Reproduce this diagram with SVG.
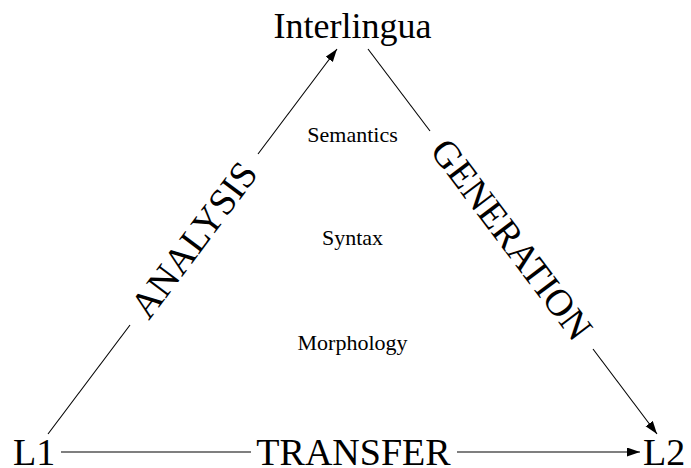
<svg xmlns="http://www.w3.org/2000/svg" width="691" height="468" viewBox="0 0 691 468">
  <style>
    .big { font-family: "Liberation Serif", "Times New Roman", serif; font-size: 38px; fill: #000; }
    .small { font-family: "Liberation Serif", "Times New Roman", serif; font-size: 22px; fill: #000; text-anchor: middle; }
    .edge { stroke: #000; stroke-width: 1.1; fill: none; }
  </style>
  <defs>
    <marker id="arrow" markerUnits="userSpaceOnUse" markerWidth="14" markerHeight="10" refX="13" refY="4.5" orient="auto">
      <path d="M0,0 L13,4.5 L0,9 Z" fill="#000"/>
    </marker>
  </defs>

  <!-- corner nodes -->
  <g id="interlingua">
    <text class="big" x="352.5" y="38" text-anchor="middle" style="font-size:36px">Interlingua</text>
  </g>
  <g id="l1">
    <text class="big" x="13" y="465">L1</text>
  </g>
  <g id="l2">
    <text class="big" x="643" y="465">L2</text>
  </g>

  <!-- levels inside the triangle -->
  <g id="levels">
    <text class="small" x="352.5" y="142">Semantics</text>
    <text class="small" x="352.5" y="245">Syntax</text>
    <text class="small" x="352.5" y="350">Morphology</text>
  </g>

  <!-- connectors: each edge is split around its label -->
  <g id="connectors">
    <line class="edge" x1="48" y1="434" x2="130" y2="325"/>
    <line class="edge" x1="258" y1="154" x2="337" y2="49" marker-end="url(#arrow)"/>

    <line class="edge" x1="368" y1="49" x2="430" y2="131"/>
    <line class="edge" x1="593" y1="349" x2="657" y2="434" marker-end="url(#arrow)"/>

    <line class="edge" x1="61" y1="452" x2="251" y2="452"/>
    <line class="edge" x1="457" y1="452" x2="640" y2="452" marker-end="url(#arrow)"/>
  </g>

  <!-- edge labels -->
  <g id="edge-labels">
    <text class="big" text-anchor="middle" transform="translate(194,240) rotate(-53.1)" y="12.5">ANALYSIS</text>
    <text class="big" text-anchor="middle" transform="translate(511.5,239.5) rotate(53.0)" y="12.5">GENERATION</text>
    <text class="big" text-anchor="middle" x="353.5" y="465">TRANSFER</text>
  </g>
</svg>
